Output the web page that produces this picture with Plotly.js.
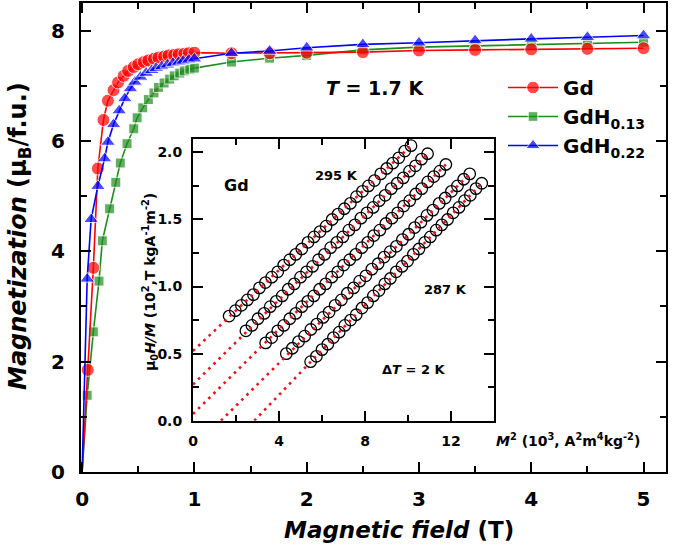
<!DOCTYPE html>
<html><head><meta charset="utf-8">
<script src="https://cdn.plot.ly/plotly-3.0.1.min.js"></script>
<style>body{margin:0;background:#fff}</style>
</head><body><div id="chart" style="width:675px;height:554px"></div>
<script>
// ---- main panel data: magnetization (μB/f.u.) vs field (T) at 1.7 K ----
const fieldGd   = [0, 0.05, 0.1, 0.14, 0.19, 0.23, 0.28, 0.32, 0.37, 0.41, 0.46, 0.5, 0.55, 0.59, 0.64, 0.68, 0.73, 0.77, 0.82, 0.86, 0.91, 0.95, 1.0, 1.33, 1.67, 2.0, 2.5, 3.0, 3.5, 4.0, 4.5, 5.0];
const momentGd  = [0, 1.85, 3.7, 5.5, 6.38, 6.73, 6.92, 7.06, 7.18, 7.27, 7.34, 7.39, 7.43, 7.46, 7.49, 7.51, 7.53, 7.55, 7.56, 7.57, 7.58, 7.59, 7.6, 7.59, 7.59, 7.6, 7.61, 7.64, 7.65, 7.66, 7.67, 7.68];
const fieldH13  = [0, 0.045, 0.1, 0.15, 0.18, 0.245, 0.3, 0.34, 0.4, 0.46, 0.49, 0.54, 0.59, 0.64, 0.68, 0.73, 0.78, 0.82, 0.87, 0.91, 0.96, 1.0, 1.33, 1.67, 2.0, 2.5, 3.0, 3.5, 4.0, 4.5, 5.0];
const momentH13 = [0, 1.39, 2.54, 3.46, 4.19, 4.77, 5.25, 5.6, 5.95, 6.22, 6.42, 6.6, 6.75, 6.87, 6.97, 7.05, 7.12, 7.18, 7.23, 7.27, 7.3, 7.32, 7.43, 7.5, 7.55, 7.65, 7.7, 7.72, 7.74, 7.76, 7.79];
const fieldH22  = [0, 0.045, 0.08, 0.14, 0.2, 0.23, 0.28, 0.33, 0.38, 0.43, 0.47, 0.52, 0.57, 0.62, 0.66, 0.71, 0.76, 0.81, 0.86, 0.9, 0.95, 1.0, 1.33, 1.67, 2.0, 2.5, 3.0, 3.5, 4.0, 4.5, 5.0];
const momentH22 = [0, 3.5, 4.58, 5.18, 5.68, 5.98, 6.3, 6.55, 6.77, 6.95, 7.07, 7.16, 7.23, 7.28, 7.32, 7.35, 7.38, 7.41, 7.43, 7.45, 7.47, 7.49, 7.59, 7.63, 7.69, 7.75, 7.78, 7.82, 7.85, 7.88, 7.91];
const seriesNames = ['Gd', 'GdH<sub>0.13</sub>', 'GdH<sub>0.22</sub>'];

// ---- inset data: Arrott plot of Gd, mu0H/M (10^2) vs M^2 (10^3) ----
const isoLabels = ['295 K', '293 K', '291 K', '289 K', '287 K'];
const m2_295 = [1.68, 1.97, 2.25, 2.53, 2.81, 3.09, 3.37, 3.66, 3.94, 4.22, 4.50, 4.78, 5.06, 5.35, 5.63, 5.91, 6.19, 6.47, 6.75, 7.04, 7.32, 7.60, 7.88, 8.16, 8.44, 8.73, 9.01, 9.29, 9.57, 9.85, 10.14];
const hm_295 = [0.78, 0.82, 0.86, 0.90, 0.94, 0.99, 1.03, 1.07, 1.11, 1.16, 1.20, 1.24, 1.28, 1.33, 1.37, 1.41, 1.45, 1.50, 1.54, 1.58, 1.62, 1.67, 1.71, 1.75, 1.79, 1.84, 1.88, 1.92, 1.96, 2.01, 2.05];
const m2_293 = [2.46, 2.74, 3.02, 3.31, 3.59, 3.87, 4.15, 4.43, 4.71, 5.00, 5.28, 5.56, 5.84, 6.12, 6.40, 6.69, 6.97, 7.25, 7.53, 7.81, 8.09, 8.38, 8.66, 8.94, 9.22, 9.50, 9.78, 10.07, 10.35, 10.63, 10.91];
const hm_293 = [0.67, 0.71, 0.76, 0.80, 0.85, 0.89, 0.93, 0.98, 1.02, 1.07, 1.11, 1.15, 1.20, 1.24, 1.29, 1.33, 1.37, 1.42, 1.46, 1.51, 1.55, 1.59, 1.64, 1.68, 1.73, 1.77, 1.81, 1.86, 1.90, 1.95, 1.99];
const m2_291 = [3.38, 3.66, 3.94, 4.22, 4.50, 4.78, 5.06, 5.34, 5.62, 5.89, 6.17, 6.45, 6.73, 7.01, 7.29, 7.57, 7.85, 8.13, 8.41, 8.69, 8.97, 9.25, 9.52, 9.80, 10.08, 10.36, 10.64, 10.92, 11.20, 11.48, 11.76];
const hm_291 = [0.58, 0.62, 0.67, 0.71, 0.76, 0.80, 0.85, 0.89, 0.93, 0.98, 1.02, 1.07, 1.11, 1.16, 1.20, 1.24, 1.29, 1.33, 1.38, 1.42, 1.47, 1.51, 1.55, 1.60, 1.64, 1.69, 1.73, 1.78, 1.82, 1.86, 1.91];
const m2_289 = [4.34, 4.62, 4.91, 5.19, 5.48, 5.76, 6.05, 6.33, 6.61, 6.90, 7.18, 7.47, 7.75, 8.04, 8.32, 8.61, 8.89, 9.17, 9.46, 9.74, 10.03, 10.31, 10.60, 10.88, 11.16, 11.45, 11.73, 12.02, 12.30, 12.59, 12.87];
const hm_289 = [0.50, 0.54, 0.59, 0.63, 0.68, 0.72, 0.77, 0.81, 0.86, 0.90, 0.95, 0.99, 1.04, 1.08, 1.13, 1.17, 1.22, 1.26, 1.30, 1.35, 1.39, 1.44, 1.48, 1.53, 1.57, 1.62, 1.66, 1.71, 1.75, 1.80, 1.84];
const m2_287 = [5.47, 5.74, 6.00, 6.27, 6.53, 6.80, 7.06, 7.33, 7.59, 7.86, 8.12, 8.39, 8.65, 8.92, 9.18, 9.45, 9.72, 9.98, 10.25, 10.51, 10.78, 11.04, 11.31, 11.57, 11.84, 12.10, 12.37, 12.63, 12.90, 13.16, 13.43];
const hm_287 = [0.44, 0.48, 0.53, 0.57, 0.62, 0.66, 0.71, 0.75, 0.79, 0.84, 0.88, 0.93, 0.97, 1.02, 1.06, 1.11, 1.15, 1.19, 1.24, 1.28, 1.33, 1.37, 1.42, 1.46, 1.50, 1.55, 1.59, 1.64, 1.68, 1.73, 1.77];
// start points of the linear (dotted) extrapolations, read at the axes
const fitStartM2 = [0, 0, 0, 1.3, 2.85];
const fitStartHM = [0.52, 0.27, 0.05, 0, 0];

const F = 'DejaVu Sans, sans-serif';
const W = 675, H = 554, ML = 81, MR = 9, MT = 3, MB = 82;
const pw = W - ML - MR, ph = H - MT - MB;
const px = x => (x - ML) / pw, py = y => (H - MB - y) / ph;

const traces = [];
const mainDefs = [
  {x: fieldH13, y: momentH13, name: seriesNames[1], color: '#1f8c1f', symbol: 'square', size: 10, rank: 2},
  {x: fieldGd,  y: momentGd,  name: seriesNames[0], color: '#ff0000', symbol: 'circle', size: 13, rank: 1},
  {x: fieldH22, y: momentH22, name: seriesNames[2], color: '#0000ff', symbol: 'triangle-up', size: 13, rank: 3}
];
mainDefs.forEach(d => traces.push({
  type: 'scatter', mode: 'lines+markers', x: d.x, y: d.y, name: d.name, legendrank: d.rank,
  line: {color: d.color, width: 1.6},
  marker: {color: d.color, symbol: d.symbol, size: d.x.map(v => v === 0 ? 0 : d.size)},
  xaxis: 'x', yaxis: 'y'
}));

const isoX = [m2_295, m2_293, m2_291, m2_289, m2_287];
const isoY = [hm_295, hm_293, hm_291, hm_289, hm_287];
isoX.forEach((xs, i) => {
  traces.push({type: 'scatter', mode: 'markers', x: xs, y: isoY[i], name: isoLabels[i], showlegend: false,
    marker: {symbol: 'circle-open', color: '#000', size: 11.5, line: {width: 1.3, color: '#000'}},
    xaxis: 'x2', yaxis: 'y2'});
  traces.push({type: 'scatter', mode: 'lines', showlegend: false,
    x: [fitStartM2[i], xs[xs.length - 1]], y: [fitStartHM[i], isoY[i][isoY[i].length - 1]],
    line: {color: '#e8141c', width: 2.6, dash: '2.6px,4.6px'},
    xaxis: 'x2', yaxis: 'y2'});
});

const minorT = d => ({ticks: 'inside', ticklen: 6, tickwidth: 2, tickcolor: '#000', dtick: d});
const ax = (extra) => Object.assign({
  showline: true, linewidth: 2, linecolor: '#000', mirror: 'ticks', ticks: 'inside',
  tickwidth: 2, tickcolor: '#000', ticklen: 10, showgrid: false, zeroline: false
}, extra);
const tf = s => ({family: F, size: s, color: '#000', weight: 'bold'});

const annot = (x, y, text, size, extra) => Object.assign({
  xref: 'paper', yref: 'paper', x: px(x), y: py(y), text: text, showarrow: false,
  xanchor: 'center', yanchor: 'middle', font: {family: F, size: size, color: '#000'}
}, extra || {});

const layout = {
  width: W, height: H, margin: {l: ML, r: MR, t: MT, b: MB},
  paper_bgcolor: '#fff', plot_bgcolor: '#fff',
  font: {family: F, color: '#000'},
  xaxis: ax({range: [-0.01, 5.2], dtick: 1, tick0: 0, minor: minorT(0.5),
    tickfont: tf(20), ticklabelstandoff: 8, anchor: 'y'}),
  yaxis: ax({range: [0, 8.5], dtick: 2, tick0: 0, minor: minorT(1),
    tickfont: tf(20), ticklabelstandoff: 10, anchor: 'x'}),
  xaxis2: ax({domain: [px(193), px(494)], anchor: 'y2', range: [0, 14], dtick: 4, tick0: 0,
    minor: minorT(2), tickfont: tf(14), ticklabelstandoff: 6}),
  yaxis2: ax({domain: [py(420.7), py(139)], anchor: 'x2', range: [0, 2.1], dtick: 0.5, tick0: 0, tickformat: '.1f',
    minor: minorT(0.25), tickfont: tf(14), ticklabelstandoff: 6}),
  showlegend: true,
  legend: {x: px(503), y: py(68), xanchor: 'left', yanchor: 'top', bgcolor: 'rgba(0,0,0,0)',
    font: tf(20), itemwidth: 50, tracegroupgap: 0},
  annotations: [
    annot(19, 236, '<b><i>Magnetization</i> (μ<sub>B</sub>/f.u.)</b>', 24, {textangle: -90}),
    annot(399, 530, '<b><i>Magnetic field</i> (T)</b>', 23),
    annot(375, 88, '<b><i>T</i> = 1.7 K</b>', 19),
    annot(236, 186, '<b>Gd</b>', 16),
    annot(336, 175, '<b>' + isoLabels[0] + '</b>', 13),
    annot(445, 289, '<b>' + isoLabels[4] + '</b>', 13),
    annot(413, 369, '<b>Δ<i>T</i> = 2 K</b>', 13),
    annot(568, 440, '<b><i>M</i><sup>2</sup> (10<sup>3</sup>, A<sup>2</sup>m<sup>4</sup>kg<sup>-2</sup>)</b>', 14),
    annot(150, 282, '<b>μ<sub>0</sub><i>H/M</i> (10<sup>2</sup>,T kgA<sup>-1</sup>m<sup>-2</sup>)</b>', 14, {textangle: -90})
  ]
};

Plotly.newPlot('chart', traces, layout, {displayModeBar: false, staticPlot: true});
</script></body></html>
